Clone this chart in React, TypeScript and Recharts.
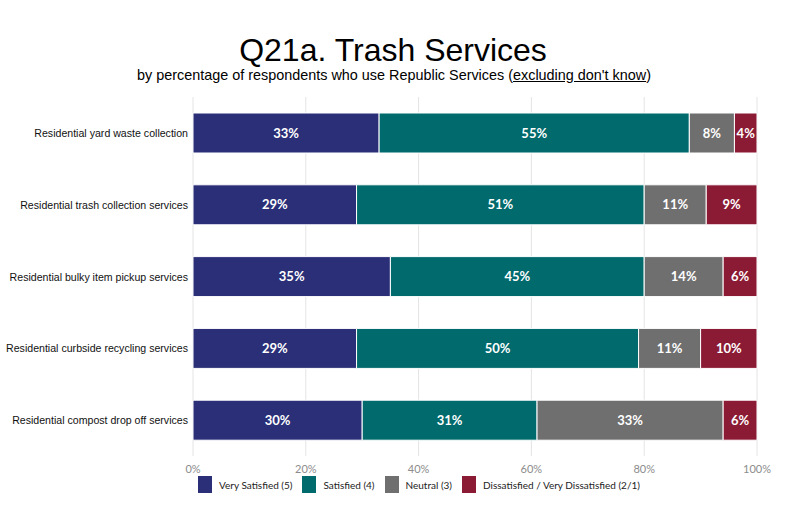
import React from 'react';
import { BarChart, Bar, XAxis, YAxis, CartesianGrid, Legend, LabelList } from 'recharts';

const categories = [
  'Residential yard waste collection',
  'Residential trash collection services',
  'Residential bulky item pickup services',
  'Residential curbside recycling services',
  'Residential compost drop off services',
];

const verySatisfied = [33, 29, 35, 29, 30];
const satisfied = [55, 51, 45, 50, 31];
const neutral = [8, 11, 14, 11, 33];
const dissatisfied = [4, 9, 6, 10, 6];

const xTicks = [0, 20, 40, 60, 80, 100];

const series = [
  { key: 'vs', label: 'Very Satisfied (5)', color: '#2a2f78', values: verySatisfied },
  { key: 's', label: 'Satisfied (4)', color: '#006a6d', values: satisfied },
  { key: 'n', label: 'Neutral (3)', color: '#6f6f6f', values: neutral },
  { key: 'd', label: 'Dissatisfied / Very Dissatisfied (2/1)', color: '#8b1a34', values: dissatisfied },
];

const data = categories.map((name, i) => {
  const row: Record<string, string | number> = { name };
  series.forEach(s => {
    row[s.key] = s.values[i];
  });
  return row;
});

// single-line category label, right aligned against the plot
const CategoryTick = (props: any) => {
  const { x, y, payload } = props;
  return (
    <text
      x={x}
      y={y}
      dy={4}
      textAnchor="end"
      fontSize={10.6}
      fill="#111"
      fontFamily='"Liberation Sans", Arial, sans-serif'
    >
      {payload.value}
    </text>
  );
};

const LegendContent = () => (
  <div style={{ display: 'flex', alignItems: 'center', fontFamily: 'Lato, sans-serif', fontSize: 10, color: '#222' }}>
    {series.map(s => (
      <div key={s.key} style={{ display: 'flex', alignItems: 'center', marginRight: 10 }}>
        <div style={{ width: 14, height: 17, background: s.color, marginRight: 7 }} />
        <span>{s.label}</span>
      </div>
    ))}
  </div>
);

const App: React.FC = () => {
  return (
    <div style={{ position: 'absolute', left: 0, top: 0, width: 790, height: 527, background: '#fff' }}>
      <div
        style={{
          position: 'absolute', top: 34, left: 0, width: 786, textAlign: 'center',
          fontFamily: '"Liberation Sans", Arial, sans-serif', fontSize: 32, lineHeight: '32px', color: '#000',
        }}
      >
        Q21a. Trash Services
      </div>
      <div
        style={{
          position: 'absolute', top: 68, left: 0, width: 788, textAlign: 'center',
          fontFamily: '"Liberation Sans", Arial, sans-serif', fontSize: 14.4, lineHeight: '15px', color: '#000',
        }}
      >
        by percentage of respondents who use Republic Services (<span style={{ textDecoration: 'underline' }}>excluding don't know</span>)
      </div>
      <BarChart
        width={790}
        height={527}
        data={data}
        layout="vertical"
        margin={{ top: 97, right: 33, bottom: 51, left: 0 }}
        barCategoryGap={0}
      >
        <CartesianGrid horizontal={false} stroke="#e4e4e4" xAxisId="bottom" />
        <XAxis
          xAxisId="top"
          orientation="top"
          type="number"
          domain={[0, 100]}
          ticks={xTicks}
          height={0}
          tickSize={3}
          tickFormatter={() => ''}
          axisLine={{ stroke: '#8a8a8a', strokeWidth: 1.5 }}
          tickLine={{ stroke: '#8a8a8a', strokeWidth: 1.5 }}
        />
        <XAxis
          xAxisId="bottom"
          type="number"
          domain={[0, 100]}
          ticks={xTicks}
          height={20}
          axisLine={false}
          tickLine={false}
          tickSize={0}
          tickMargin={9}
          tickFormatter={(v: number) => `${v}%`}
          tick={{ fontSize: 11, fill: '#8c8c8c', fontFamily: 'Lato, sans-serif' }}
        />
        <YAxis
          type="category"
          dataKey="name"
          width={193}
          axisLine={false}
          tickLine={false}
          tickSize={0}
          tickMargin={5}
          tick={<CategoryTick />}
        />
        <Legend
          layout="horizontal"
          verticalAlign="middle"
          align="center"
          content={<LegendContent />}
          wrapperStyle={{ position: 'absolute', top: 476, left: 198, width: 'auto' }}
        />
        {series.map(s => (
          <Bar
            key={s.key}
            dataKey={s.key}
            name={s.label}
            stackId="a"
            xAxisId="bottom"
            fill={s.color}
            stroke="#ffffff"
            strokeWidth={1}
            barSize={40}
            isAnimationActive={false}
          >
            <LabelList
              dataKey={s.key}
              position="center"
              formatter={(v: number) => `${v}%`}
              style={{ fill: '#fff', fontSize: 13, fontWeight: 700, fontFamily: 'Lato, sans-serif' }}
            />
          </Bar>
        ))}
      </BarChart>
    </div>
  );
};

export default App;
